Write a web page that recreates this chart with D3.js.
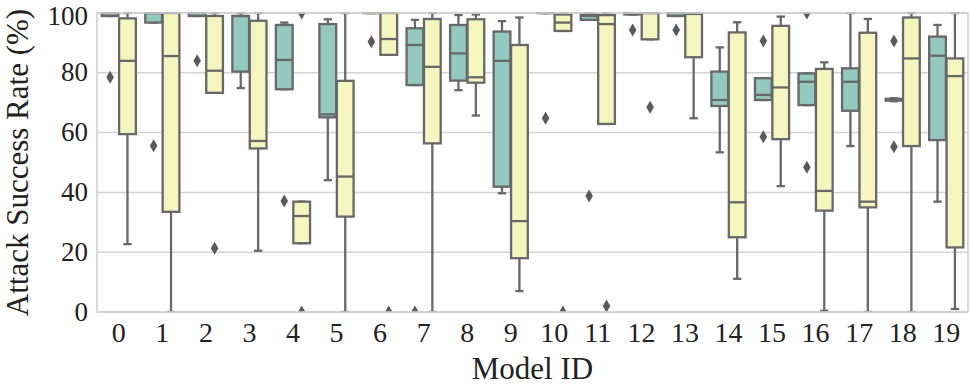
<!DOCTYPE html>
<html>
<head>
<meta charset="utf-8">
<script src="https://cdn.jsdelivr.net/npm/d3@7"></script>
<style>
  body { margin: 0; background: #fff; }
  text { font-family: "Liberation Serif", "Times New Roman", serif; fill: #222; }
</style>
</head>
<body>
<svg id="chart" width="970" height="386"></svg>
<script>
// model ids on the x axis
var models = ["0","1","2","3","4","5","6","7","8","9","10","11","12","13","14","15","16","17","18","19"]
var yTicks = [0, 20, 40, 60, 80, 100]

// box stats per model: [low whisker, q1, median, q3, high whisker]
var tealStats = [
	[99, 99, 100, 100, 100],
	[96.8, 96.8, 100, 100, 100],
	[99, 99, 100, 100, 100],
	[74.9, 80.4, 99, 99, 100],
	[74.5, 74.5, 84.3, 96, 96.8],
	[44.1, 65.1, 66.1, 96.3, 97.9],
	[100, 100, 100, 100, 100],
	[75.9, 75.9, 89.3, 94.9, 97.7],
	[74.2, 77.4, 86.5, 96, 99.3],
	[39.7, 41.9, 84, 93.8, 97.3],
	[100, 100, 100, 100, 100],
	[97.7, 97.7, 99, 99.5, 100],
	[99.5, 99.5, 100, 100, 100],
	[99, 99, 100, 100, 100],
	[53.4, 68.9, 70.9, 80.4, 88.5],
	[70.9, 70.9, 72.6, 78.2, 78.2],
	[69.2, 69.2, 77, 79.8, 79.8],
	[55.5, 67.3, 77, 81.5, 100],
	[70.5, 70.7, 71, 71.3, 71.5],
	[36.9, 57.5, 85.7, 92.1, 96]
]
var yellowStats = [
	[22.7, 59.5, 84, 98.2, 100],
	[0, 33.5, 85.6, 100, 100],
	[73.3, 73.3, 80.7, 99, 100],
	[20.5, 54.7, 57.2, 97.4, 100],
	[23, 23, 32.1, 36.9, 36.9],
	[0, 31.9, 45.3, 77.3, 100],
	[86, 86, 91.3, 100, 100],
	[0, 56.4, 82, 98, 100],
	[65.7, 76.7, 78.5, 97.9, 99.5],
	[7, 18, 30.4, 89.3, 98.5],
	[94, 94, 96.8, 99.5, 100],
	[62.9, 62.9, 96.3, 99.3, 100],
	[91.2, 91.2, 100, 100, 100],
	[64.8, 85.2, 99.7, 99.7, 100],
	[11.1, 25, 36.7, 93.5, 96.9],
	[42.1, 57.8, 75.1, 95.7, 98.8],
	[0.4, 33.9, 40.5, 81.3, 83.5],
	[0, 35, 36.9, 93.4, 98],
	[0, 55.5, 84.8, 98.5, 100],
	[1, 21.6, 78.9, 84.8, 100]
]
// outliers: [model index, value]
var tealOutliers = [[0, 78.5], [1, 55.6], [2, 84], [4, 37.1], [6, 90.4], [7, 0], [10, 64.8], [11, 38.8],
	[12, 94.3], [13, 94.3], [15, 90.6], [15, 58.6], [16, 100], [16, 48.4], [18, 90.6], [18, 55.3]]
var yellowOutliers = [[2, 21.3], [4, 100], [4, 0], [6, 0], [10, 0], [11, 2], [12, 68.5]]

var TEAL = "#93c9bf", YELLOW = "#f5f5c0", LINE = "#686868", FLIER = "#5a5a5a"
var LEFT = 97, RIGHT = 968, TOP = 13, BOTTOM = 312

var chart = d3.select("#chart")
var x = d3.scaleBand().domain(models).range([LEFT, RIGHT]).padding(0)
var hue = d3.scaleBand().domain(["teal", "yellow"]).range([0, x.bandwidth() * 0.8]).padding(0)
var y = d3.scaleLinear().domain([0, 100]).range([BOTTOM, TOP])

chart.append("defs").append("clipPath").attr("id", "plotclip")
	.append("rect").attr("x", LEFT).attr("y", TOP - 1).attr("width", RIGHT - LEFT).attr("height", BOTTOM - TOP + 1)

// grid
chart.append("g").selectAll("line").data(yTicks).enter().append("line")
	.attr("x1", LEFT).attr("x2", RIGHT)
	.attr("y1", d => y(d)).attr("y2", d => y(d))
	.attr("stroke", "#d4d4d4").attr("stroke-width", 1.5)

var plot = chart.append("g").attr("clip-path", "url(#plotclip)")

function drawSeries(stats, outliers, key, color) {
	var bw = hue.bandwidth() * 0.96
	var cx = (i) => x(models[i]) + x.bandwidth() * 0.1 + hue(key) + hue.bandwidth() / 2
	var g = plot.append("g")
	var boxes = g.selectAll("g.box").data(stats).enter().append("g").attr("class", "box")
		.attr("transform", (_, i) => "translate(" + cx(i) + ",0)")
	// whiskers
	boxes.append("line")
		.attr("y1", d => y(d[0])).attr("y2", d => y(d[1]))
		.attr("stroke", LINE).attr("stroke-width", 2.3)
	boxes.append("line")
		.attr("y1", d => y(d[3])).attr("y2", d => y(d[4]))
		.attr("stroke", LINE).attr("stroke-width", 2.3)
	// caps
	boxes.selectAll("line.cap").data(d => [d[0], d[4]]).enter().append("line").attr("class", "cap")
		.attr("x1", -bw / 4).attr("x2", bw / 4)
		.attr("y1", d => y(d)).attr("y2", d => y(d))
		.attr("stroke", LINE).attr("stroke-width", 2.3)
	boxes.append("rect")
		.attr("x", -bw / 2).attr("width", bw)
		.attr("y", d => y(d[3])).attr("height", d => Math.max(0.01, y(d[1]) - y(d[3])))
		.attr("fill", color).attr("stroke", LINE).attr("stroke-width", 2.3)
	boxes.append("line")
		.attr("x1", -bw / 2).attr("x2", bw / 2)
		.attr("y1", d => y(d[2])).attr("y2", d => y(d[2]))
		.attr("stroke", LINE).attr("stroke-width", 2.3)
	g.selectAll("path.flier").data(outliers).enter().append("path").attr("class", "flier")
		.attr("transform", d => "translate(" + cx(d[0]) + "," + y(d[1]) + ")")
		.attr("d", "M0,-6.5L3.8,0L0,6.5L-3.8,0Z")
		.attr("fill", FLIER)
}
drawSeries(tealStats, tealOutliers, "teal", TEAL)
drawSeries(yellowStats, yellowOutliers, "yellow", YELLOW)

// frame
chart.append("rect").attr("x", LEFT).attr("y", TOP).attr("width", RIGHT - LEFT).attr("height", BOTTOM - TOP)
	.attr("fill", "none").attr("stroke", "#d0d0d0").attr("stroke-width", 1.6)

// axes
var yAxis = chart.append("g").attr("transform", "translate(" + LEFT + ",0)")
	.call(d3.axisLeft(y).tickValues(yTicks).tickSize(0).tickPadding(9))
var xAxis = chart.append("g").attr("transform", "translate(0," + BOTTOM + ")")
	.call(d3.axisBottom(x).tickSize(0).tickPadding(10))
chart.selectAll(".domain").remove()
yAxis.selectAll("text").attr("font-size", "27px").attr("dy", "0.3em")
// keep the top label inside the page
yAxis.selectAll("text").filter(d => d === 100).attr("y", 3)
xAxis.selectAll("text").attr("font-size", "28px").attr("dy", "0.72em")

chart.append("text")
	.attr("font-size", "31px")
	.attr("text-anchor", "middle")
	.attr("transform", "translate(28," + ((TOP + BOTTOM) / 2) + ") rotate(-90)")
	.text("Attack Success Rate (%)")
chart.append("text")
	.attr("font-size", "31px")
	.attr("text-anchor", "middle")
	.attr("x", (LEFT + RIGHT) / 2)
	.attr("y", 379)
	.text("Model ID")
</script>
</body>
</html>
